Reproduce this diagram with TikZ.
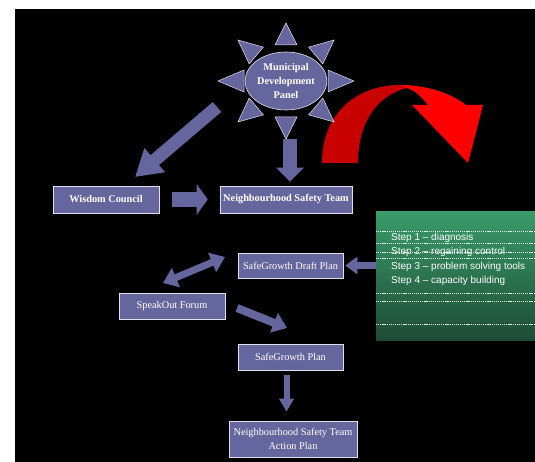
\documentclass[tikz,border=0pt]{standalone}
\usepackage{fontspec}
\setmainfont{Liberation Serif}
\newfontfamily\stepfont{Liberation Sans}
\usetikzlibrary{arrows.meta,shapes.geometric,calc}

\definecolor{slate}{RGB}{102,102,158}
\definecolor{darkred}{RGB}{200,0,0}
\definecolor{greentop}{RGB}{58,155,106}
\definecolor{greenbot}{RGB}{30,76,54}

\begin{document}
\begin{tikzpicture}[x=1pt, y=-1pt,
   box/.style={draw=white!80!slate, line width=0.6pt, fill=slate, text=white,
      inner sep=1pt, font=\fontsize{10.3}{13.5}\selectfont},
   boldbox/.style={box, font=\bfseries\fontsize{10.3}{12}\selectfont},
   bigarrow/.style n args={3}{draw=slate, line width=#1,
      -{Triangle[length=#2, width=#3]}},
   twoarrow/.style n args={3}{draw=slate, line width=#1,
      {Triangle[length=#2, width=#3]}-{Triangle[length=#2, width=#3]}}]

   \def\cx{286}; % panel centre
   \def\cy{81};

   \useasboundingbox (0,0) rectangle (535,462);
   \fill[black] (15,9) rectangle (535,462);

   % red curved arrow
   \fill[darkred] (322,163) .. controls (322,112) and (358,85) .. (400,85)
      -- (407,88) .. controls (375,96) and (358,125) .. (358,163) -- cycle;
   \fill[red] (400,85) .. controls (428,85) and (452,94) .. (466,105)
      -- (483,105) -- (468,163) -- (412,105) -- (428,105)
      .. controls (421,96) and (414,90) .. (407,88) -- cycle;

   % sun
   \foreach \a in {0,45,...,315} {
      \coordinate (base) at ({\cx+42*cos(\a)},{\cy-36*sin(\a)});
      \coordinate (tip) at ({\cx+68*cos(\a)},{\cy-58*sin(\a)});
      \filldraw[fill=slate, draw=white!80!slate, line width=0.5pt]
         ($(base)!11pt!90:(tip)$) -- (tip) -- ($(base)!11pt!-90:(tip)$) -- cycle;
   }
   \node[ellipse, draw=white!80!slate, line width=0.6pt, fill=slate, text=white,
      minimum width=66pt, minimum height=58pt, inner sep=0pt, align=center,
      font=\bfseries\fontsize{10.3}{14}\selectfont] (panel) at (\cx,\cy)
      {Municipal\\Development\\Panel};

   \node[boldbox, minimum width=106pt, minimum height=27pt] (wc) at (106,199.5) {Wisdom Council};
   \node[boldbox, minimum width=132pt, minimum height=27pt] (nst) at (286,199.5) {Neighbourhood Safety Team};
   \node[box, minimum width=105pt, minimum height=25pt] (draft) at (290.5,265.5) {SafeGrowth Draft Plan};
   \node[box, minimum width=106pt, minimum height=26pt] (forum) at (172,306) {SpeakOut Forum};
   \node[box, minimum width=105pt, minimum height=26pt] (plan) at (290.5,357) {SafeGrowth Plan};
   \node[box, minimum width=128pt, minimum height=36pt, align=center] (action) at (293,439)
      {Neighbourhood Safety Team\\Action Plan};

   % steps
   \node[top color=greentop, bottom color=greenbot, minimum width=159pt,
      minimum height=128pt, inner sep=0pt] (steps) at (455.5,276) {};
   \foreach \y in {231,243,252,258,293,301,324}
      \draw[white!85!greentop, line width=0.5pt, dash pattern=on 1.2pt off 0.9pt]
         (376,\y) -- (535,\y);
   \node[anchor=west, align=left, text=white, inner sep=0pt,
      font=\stepfont\fontsize{10}{14.3}\selectfont] (steplist) at (391,259.5)
      {Step 1 \textendash{} diagnosis\\Step 2 \textendash{} regaining control\\Step 3 \textendash{} problem solving tools\\Step 4 \textendash{} capacity building};

   % arrows
   \coordinate (pw) at (217,107);
   \coordinate (wcn) at (135,177);
   \draw[bigarrow={13pt}{26pt}{30pt}] (pw) -- (wcn);
   \draw[bigarrow={14pt}{14pt}{27pt}, shorten <=29pt, shorten >=4pt]
      ([xshift=4pt]panel.south) -- ([xshift=4pt]nst.north);
   \draw[bigarrow={15pt}{11pt}{30pt}, shorten <=13pt, shorten >=12pt] (wc) -- (nst);
   \draw[bigarrow={7pt}{12pt}{17pt}, shorten >=2pt] (steps.west |- draft.east) -- (draft.east);

   \coordinate (fn) at (163,283);
   \coordinate (dw) at (225,257);
   \draw[twoarrow={7pt}{14pt}{20pt}] (fn) -- (dw);
   \coordinate (fe) at (237,308);
   \coordinate (pn) at (287,328);
   \draw[bigarrow={8pt}{14pt}{20pt}] (fe) -- (pn);
   \draw[bigarrow={6pt}{13pt}{14pt}, shorten <=5pt, shorten >=9pt]
      ([xshift=-4pt]plan.south) -- ([xshift=-4pt]plan.south |- action.north);

\end{tikzpicture}
\end{document}
